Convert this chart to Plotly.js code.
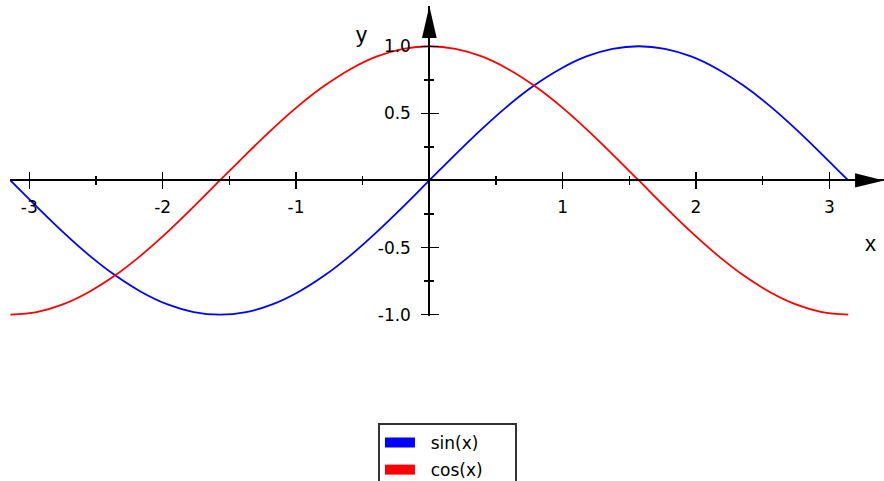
<!DOCTYPE html>
<html>
<head>
<meta charset="utf-8">
<script src="https://cdn.plot.ly/plotly-3.0.1.min.js"></script>
<style>
  body { margin: 0; background: #fff; }
  #plot { width: 884px; height: 481px; }
</style>
</head>
<body>
<div id="plot"></div>
<script>
// sample points along x (steps of pi/16)
var xs = [-3.142, -2.945, -2.749, -2.553, -2.356, -2.160, -1.963, -1.767, -1.571,
          -1.374, -1.178, -0.982, -0.785, -0.589, -0.393, -0.196, 0,
          0.196, 0.393, 0.589, 0.785, 0.982, 1.178, 1.374, 1.571,
          1.767, 1.963, 2.160, 2.356, 2.553, 2.749, 2.945, 3.142];
var sinVals = [0, -0.195, -0.383, -0.556, -0.707, -0.831, -0.924, -0.981, -1,
               -0.981, -0.924, -0.831, -0.707, -0.556, -0.383, -0.195, 0,
               0.195, 0.383, 0.556, 0.707, 0.831, 0.924, 0.981, 1,
               0.981, 0.924, 0.831, 0.707, 0.556, 0.383, 0.195, 0];
var cosVals = [-1, -0.981, -0.924, -0.831, -0.707, -0.556, -0.383, -0.195, 0,
               0.195, 0.383, 0.556, 0.707, 0.831, 0.924, 0.981, 1,
               0.981, 0.924, 0.831, 0.707, 0.556, 0.383, 0.195, 0,
               -0.195, -0.383, -0.556, -0.707, -0.831, -0.924, -0.981, -1];

var seriesNames = ["sin(x)", "cos(x)"];
var seriesColors = ["#0000ff", "#ff0000"];

var xTicks = [-3, -2, -1, 1, 2, 3];
var xTickText = ["-3", "-2", "-1", "1", "2", "3"];
var xMinor = [-2.5, -1.5, -0.5, 0.5, 1.5, 2.5];
var yTicks = [-1, -0.5, 0.5, 1];
var yTickText = ["-1.0", "-0.5", "0.5", "1.0"];
var yMinor = [-0.75, -0.25, 0.25, 0.75];

var xRange = [-3.145, 3.410];
var yRange = [-1.01, 1.30];
// where the axes cross (0,0), as fraction of the plot area
var xPos = (0 - yRange[0]) / (yRange[1] - yRange[0]);
var yPos = (0 - xRange[0]) / (xRange[1] - xRange[0]);

var textFamily = "DejaVu Sans, Verdana, sans-serif";
var tickFont = { family: textFamily, size: 17, color: "#000" };

var data = [
  { x: xs, y: sinVals, mode: "lines", line: { color: seriesColors[0], width: 1.8, shape: "spline" },
    showlegend: false, hoverinfo: "skip" },
  { x: xs, y: cosVals, mode: "lines", line: { color: seriesColors[1], width: 1.8, shape: "spline" },
    showlegend: false, hoverinfo: "skip" }
];

// legend entries (thick swatches), on the overlay axes; the padding widens the box
for (var i = 0; i < seriesNames.length; i++) {
  data.push({
    x: [null], y: [null], mode: "lines",
    name: "\u00a0\u00a0" + seriesNames[i] + "\u00a0\u00a0\u00a0\u00a0\u00a0",
    legendgroup: "g" + i,
    line: { color: seriesColors[i], width: 12 },
    xaxis: "x2", yaxis: "y2"
  });
}

function baseAxis(range, pos, vals, minorVals) {
  return {
    range: range, anchor: "free", position: pos,
    showgrid: false, zeroline: false, fixedrange: true,
    tickmode: "array", tickvals: vals,
    tickwidth: 1.5, tickcolor: "#000",
    minor: { tickmode: "array", tickvals: minorVals, ticklen: 4, tickwidth: 1.5, tickcolor: "#000" }
  };
}

var xaxis = baseAxis(xRange, xPos, xTicks, xMinor);
xaxis.ticktext = xTickText;
xaxis.showline = true; xaxis.linecolor = "#000"; xaxis.linewidth = 2;
xaxis.ticks = "outside"; xaxis.ticklen = 8; xaxis.minor.ticks = "outside";
xaxis.tickfont = tickFont; xaxis.ticklabelstandoff = 3;

var xaxis2 = baseAxis(xRange, xPos, xTicks, xMinor);
xaxis2.overlaying = "x"; xaxis2.ticks = "inside"; xaxis2.ticklen = 8;
xaxis2.minor.ticks = "inside"; xaxis2.showticklabels = false; xaxis2.showline = false;

var yaxis = baseAxis(yRange, yPos, yTicks, yMinor);
yaxis.ticktext = yTickText;
yaxis.showline = true; yaxis.linecolor = "#000"; yaxis.linewidth = 2;
yaxis.ticks = "outside"; yaxis.ticklen = 7; yaxis.minor.ticks = "outside";
yaxis.tickfont = tickFont; yaxis.ticklabelstandoff = 7;

var yaxis2 = baseAxis(yRange, yPos, yTicks, yMinor);
yaxis2.overlaying = "y"; yaxis2.ticks = "inside"; yaxis2.ticklen = 9;
yaxis2.minor.ticks = "inside"; yaxis2.showticklabels = false; yaxis2.showline = false;

var labelFont = { family: "Liberation Sans, Arial, sans-serif", size: 22, color: "#000" };

var layout = {
  width: 884, height: 481,
  margin: { l: 10, r: 0, t: 6, b: 165, autoexpand: false },
  paper_bgcolor: "#fff", plot_bgcolor: "#fff",
  showlegend: true,
  xaxis: xaxis, xaxis2: xaxis2, yaxis: yaxis, yaxis2: yaxis2,
  legend: {
    x: 0.421, y: -0.345, xanchor: "left", yanchor: "top",
    bordercolor: "#333", borderwidth: 2, bgcolor: "#fff",
    font: { family: textFamily, size: 17, color: "#000" },
    traceorder: "grouped", tracegroupgap: 2
  },
  shapes: [
    // arrow heads at the ends of the axes
    { type: "path", xref: "x", yref: "y", path: "M 3.410 0 L 3.193 0.053 L 3.193 -0.053 Z",
      fillcolor: "#000", line: { width: 0 } },
    { type: "path", xref: "x", yref: "y", path: "M 0 1.30 L -0.055 1.062 L 0.055 1.062 Z",
      fillcolor: "#000", line: { width: 0 } }
  ],
  annotations: [
    { text: "x", xref: "x", yref: "y", x: 3.306, y: -0.466, showarrow: false, font: labelFont },
    { text: "y", xref: "x", yref: "y", x: -0.512, y: 1.09, showarrow: false, font: labelFont }
  ]
};

Plotly.newPlot("plot", data, layout, { displayModeBar: false, staticPlot: true });
</script>
</body>
</html>
